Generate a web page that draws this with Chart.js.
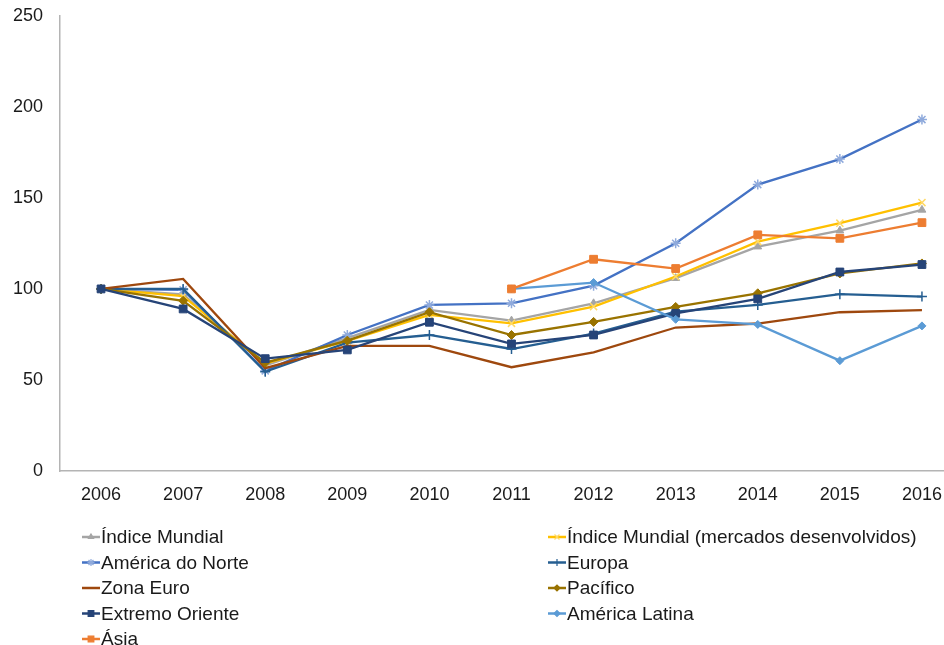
<!DOCTYPE html>
<html>
<head>
<meta charset="utf-8">
<script src="https://cdn.jsdelivr.net/npm/chart.js@4"></script>
<style>
  html, body { margin: 0; padding: 0; background: #fff; overflow: hidden; }
  #wrap { width: 944px; height: 645px; overflow: hidden; }
</style>
</head>
<body>
<div id="wrap"><canvas id="c" width="990" height="645"></canvas></div>
<script>
// Years on the category axis
const years = ['2006', '2007', '2008', '2009', '2010', '2011', '2012', '2013', '2014', '2015', '2016'];
const yTicks = [0, 50, 100, 150, 200, 250];

// Index values (2006 = 100)
const indiceMundial   = [100, 97, 58, 73, 88.5, 82.6, 92.1, 105.9, 123.2, 132, 143.4];
const indiceMundialMD = [100, 96, 59, 71.5, 85.7, 81.1, 90.3, 106.8, 126, 136.1, 147.4];
const americaNorte    = [100, 99.5, 55, 74.7, 91.2, 92.1, 101.8, 125.1, 157.3, 171.3, 193];
const europa          = [100, 100, 54.5, 70.5, 74.7, 67, 75.5, 87.5, 91.2, 97.1, 95.8];
const zonaEuro        = [100, 105.5, 56.5, 68.7, 68.7, 57, 65.2, 78.8, 81, 87.2, 88.3];
const pacifico        = [100, 93.5, 59.5, 71.6, 87.2, 74.7, 81.9, 90.1, 97.6, 108.5, 114];
const extremoOriente  = [100, 89, 61.7, 66.5, 81.7, 69.8, 74.7, 86.6, 94.5, 109.3, 113.4];
const americaLatina   = [null, null, null, null, null, 100, 103.5, 83.3, 80.5, 60.6, 79.7];
const asia            = [null, null, null, null, null, 100, 116.3, 111.2, 129.7, 127.8, 136.4];

const seriesNames = ['Índice Mundial', 'Índice Mundial (mercados desenvolvidos)', 'América do Norte', 'Europa',
  'Zona Euro', 'Pacífico', 'Extremo Oriente', 'América Latina', 'Ásia'];
const seriesValues = [indiceMundial, indiceMundialMD, americaNorte, europa, zonaEuro, pacifico, extremoOriente, americaLatina, asia];

// Line / marker styling per series
const styles = [
  { color: '#a5a5a5', point: 'triangle', r: 4.5, pColor: '#a5a5a5' },
  { color: '#ffc000', point: 'crossRot', r: 5,   pColor: '#ffd966' },
  { color: '#4472c4', point: 'star',     r: 5,   pColor: '#8faadc' },
  { color: '#255e91', point: 'cross',    r: 5,   pColor: '#255e91' },
  { color: '#9e480e', point: false,      r: 0,   pColor: '#9e480e' },
  { color: '#997300', point: 'rectRot',  r: 4.5, pColor: '#997300' },
  { color: '#264478', point: 'rect',     r: 5.5, pColor: '#264478' },
  { color: '#5b9bd5', point: 'rectRot',  r: 4,   pColor: '#5b9bd5' },
  { color: '#ed7d31', point: 'rect',     r: 5.5, pColor: '#ed7d31' }
];

const FONT = '"Liberation Sans", Arial, sans-serif';

const datasets = seriesNames.map((name, i) => {
  const s = styles[i];
  const filled = s.point === 'rect' || s.point === 'rectRot' || s.point === 'triangle';
  return {
    label: name,
    data: seriesValues[i],
    borderColor: s.color,
    backgroundColor: s.color,
    borderWidth: 2.3,
    tension: 0,
    spanGaps: false,
    pointStyle: s.point === false ? 'circle' : s.point,
    pointRadius: s.r,
    pointHoverRadius: s.r,
    pointBorderColor: s.pColor,
    pointBackgroundColor: s.pColor,
    pointBorderWidth: filled ? 1 : 1.5,
    order: seriesNames.length - i
  };
});

// Two-column legend drawn under the axis
const legendPlugin = {
  id: 'twoColLegend',
  afterDraw(chart) {
    const ctx = chart.ctx;
    const colX = [82, 548];
    const rowY = [537, 562.5, 588, 613.5, 639];
    ctx.save();
    ctx.font = '19px ' + FONT;
    ctx.textBaseline = 'middle';
    ctx.textAlign = 'left';
    seriesNames.forEach((name, i) => {
      const s = styles[i];
      const x = colX[i % 2];
      const y = rowY[Math.floor(i / 2)];
      ctx.strokeStyle = s.color;
      ctx.lineWidth = 2.5;
      ctx.beginPath();
      ctx.moveTo(x, y);
      ctx.lineTo(x + 18, y);
      ctx.stroke();
      if (s.point) {
        ctx.strokeStyle = s.pColor;
        ctx.fillStyle = s.pColor;
        ctx.lineWidth = 1.2;
        Chart.helpers.drawPoint(ctx, { pointStyle: s.point, radius: Math.max(3, s.r - 1.5), rotation: 0, borderWidth: 1.2 }, x + 9, y);
      }
      ctx.fillStyle = '#1a1a1a';
      ctx.fillText(name, x + 19, y + 1);
    });
    ctx.restore();
  }
};

new Chart(document.getElementById('c'), {
  type: 'line',
  data: { labels: years, datasets },
  options: {
    responsive: false,
    animation: false,
    events: [],
    layout: { padding: { top: 5, right: 27, left: 0, bottom: 0 } },
    plugins: { legend: { display: false }, tooltip: { enabled: false } },
    scales: {
      x: {
        type: 'category',
        offset: true,
        grid: { display: false, drawTicks: false },
        border: { display: true, color: '#b4b4b4', width: 1.5 },
        ticks: { color: '#1a1a1a', font: { family: FONT, size: 18 }, padding: 13, maxRotation: 0, autoSkip: false },
        afterFit(scale) { scale.height = 174; }
      },
      y: {
        min: 0,
        max: 250,
        afterBuildTicks(scale) { scale.ticks = yTicks.map(v => ({ value: v })); },
        grid: { display: true, drawOnChartArea: false, drawTicks: true, tickLength: 12, color: 'rgba(0,0,0,0)' },
        border: { display: true, color: '#b4b4b4', width: 1.5 },
        ticks: { color: '#1a1a1a', font: { family: FONT, size: 18 }, padding: 5 },
        afterFit(scale) { scale.width = 60; }
      }
    }
  },
  plugins: [legendPlugin]
});
</script>
</body>
</html>
